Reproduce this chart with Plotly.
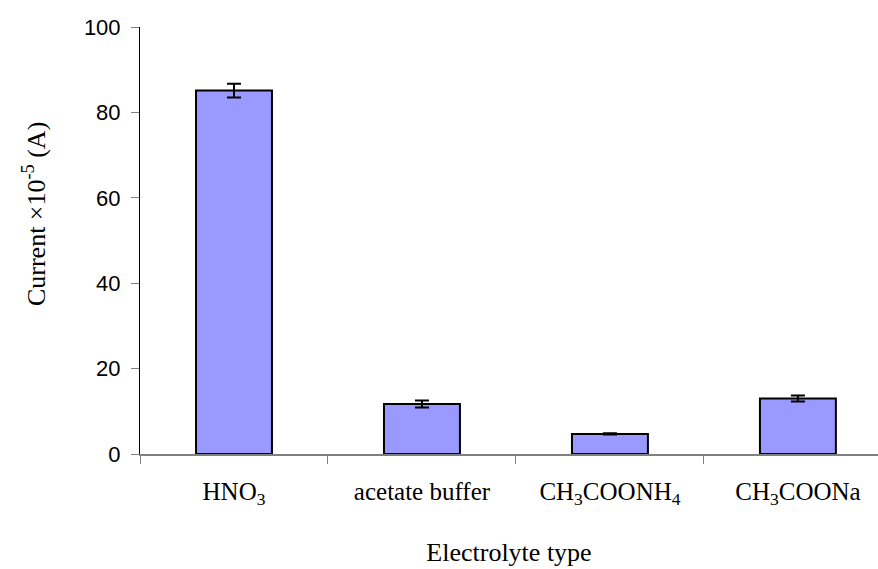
import plotly.graph_objects as go

# Electrolyte comparison: peak current with standard deviation
categories = ["HNO<sub>3</sub>", "acetate buffer", "CH<sub>3</sub>COONH<sub>4</sub>", "CH<sub>3</sub>COONa"]
current = [85.1, 11.7, 4.7, 13.0]
current_err = [1.6, 0.8, 0.15, 0.7]
y_ticks = [0, 20, 40, 60, 80, 100]

fig = go.Figure()
fig.add_trace(go.Bar(
    x=categories,
    y=current,
    width=0.404,
    marker=dict(color="#9999FF", line=dict(color="black", width=2)),
    error_y=dict(type="data", array=current_err, visible=True,
                 color="black", thickness=2, width=7),
))

fig.update_layout(
    width=878, height=569,
    margin=dict(l=140, r=0, t=27, b=115),
    plot_bgcolor="white", paper_bgcolor="white",
    showlegend=False,
    xaxis=dict(
        range=[-0.5, 3.426],
        showline=True, linecolor="#808080", linewidth=2,
        ticks="outside", tickson="boundaries", ticklen=8,
        tickcolor="#808080", tickwidth=1,
        ticklabelstandoff=14,
        tickfont=dict(family="Liberation Serif", size=25, color="black"),
        title=dict(text="Electrolyte type", standoff=35,
                   font=dict(family="Liberation Serif", size=26, color="black")),
        showgrid=False, automargin=False,
    ),
    yaxis=dict(
        range=[0, 100], tickvals=y_ticks,
        showline=True, linecolor="black", linewidth=1,
        ticks="outside", ticklen=8, tickcolor="#808080", tickwidth=1,
        ticklabelstandoff=6,
        tickfont=dict(family="Liberation Sans", size=22, color="black"),
        showgrid=False, zeroline=False, automargin=False,
    ),
    annotations=[dict(
        text="Current ×10<sup>-5</sup> (A)",
        xref="paper", yref="paper", x=-0.1436, y=0.562,
        xanchor="center", yanchor="middle", textangle=-90, showarrow=False,
        font=dict(family="Liberation Serif", size=26, color="black"),
    )],
)

fig.write_html("out.html")
